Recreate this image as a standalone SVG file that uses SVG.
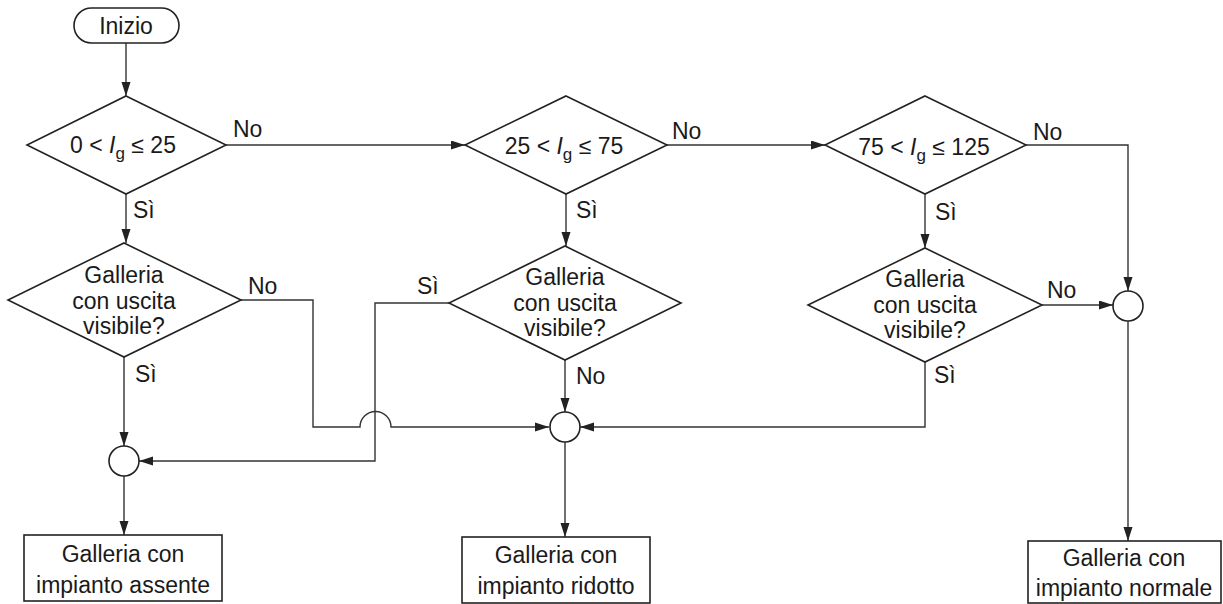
<svg xmlns="http://www.w3.org/2000/svg" width="1223" height="604" viewBox="0 0 1223 604">
<defs>
<style>
.s{fill:#fff;stroke:#222;stroke-width:1.6}
.c{fill:none;stroke:#333;stroke-width:1.4}
.t{font-family:"Liberation Sans",Arial,sans-serif;font-size:23px;fill:#1a1a1a}
.m{text-anchor:middle}
</style>
<marker id="a" markerUnits="userSpaceOnUse" markerWidth="15" markerHeight="10" refX="14" refY="4.5" orient="auto"><path d="M0,0 L14,4.5 L0,9 z" fill="#222"/></marker>
</defs>
<rect width="1223" height="604" fill="#fff"/>
<g id="connectors" class="c" marker-end="url(#a)">
<path d="M126,43 V96"/>
<path d="M226,145 H465"/>
<path d="M667,145 H825"/>
<path d="M1026,145 H1128 V291"/>
<path d="M126,194 V243"/>
<path d="M566,194 V246"/>
<path d="M925,194 V248"/>
<path d="M124,357 V446"/>
<path d="M241,300 H313 V427 H360 A15.5,15.5 0 0 1 391,427 H549"/>
<path d="M449,303 H375 V461 H139"/>
<path d="M565,360 V412"/>
<path d="M925,362 V427 H580"/>
<path d="M1042,305 H1113"/>
<path d="M124,476 V535"/>
<path d="M565,442 V537"/>
<path d="M1128,321 V541"/>
</g>
<g id="labels" class="t">
<text x="233" y="137">No</text>
<text x="672" y="139">No</text>
<text x="1033" y="140">No</text>
<text x="133" y="218">Sì</text>
<text x="576" y="218">Sì</text>
<text x="935" y="220">Sì</text>
<text x="248" y="294">No</text>
<text x="417" y="294">Sì</text>
<text x="135" y="382">Sì</text>
<text x="576" y="384">No</text>
<text x="934" y="383">Sì</text>
<text x="1047" y="298">No</text>
</g>
<g id="start">
<rect class="s" x="74" y="8" width="105" height="35" rx="17.5"/>
<text class="t m" x="126" y="34">Inizio</text>
</g>
<g id="d1">
<polygon class="s" points="126,96 226,145 126,194 27,145"/>
<text class="t m" x="123" y="153">0 &lt; <tspan font-style="italic">I</tspan><tspan font-size="17" dy="6">g</tspan><tspan dy="-6"> ≤ 25</tspan></text>
</g>
<g id="d2">
<polygon class="s" points="566,96 667,145 566,194 465,145"/>
<text class="t m" x="564" y="154">25 &lt; <tspan font-style="italic">I</tspan><tspan font-size="17" dy="6">g</tspan><tspan dy="-6"> ≤ 75</tspan></text>
</g>
<g id="d3">
<polygon class="s" points="925,96 1026,145 925,194 825,145"/>
<text class="t m" x="924" y="155">75 &lt; <tspan font-style="italic">I</tspan><tspan font-size="17" dy="6">g</tspan><tspan dy="-6"> ≤ 125</tspan></text>
</g>
<g id="d4">
<polygon class="s" points="124,243 241,300 124,357 8,300"/>
<text class="t m" x="124" y="283">Galleria</text>
<text class="t m" x="124" y="309">con uscita</text>
<text class="t m" x="124" y="334">visibile?</text>
</g>
<g id="d5">
<polygon class="s" points="565,246 681,303 565,360 449,303"/>
<text class="t m" x="565" y="285">Galleria</text>
<text class="t m" x="565" y="311">con uscita</text>
<text class="t m" x="565" y="336">visibile?</text>
</g>
<g id="d6">
<polygon class="s" points="925,248 1042,305 925,362 808,305"/>
<text class="t m" x="925" y="287">Galleria</text>
<text class="t m" x="925" y="313">con uscita</text>
<text class="t m" x="925" y="338">visibile?</text>
</g>
<g id="j1"><circle class="s" cx="124" cy="461" r="15"/></g>
<g id="j2"><circle class="s" cx="565" cy="427" r="15"/></g>
<g id="j3"><circle class="s" cx="1128" cy="306" r="15"/></g>
<g id="b1">
<rect class="s" x="24" y="535" width="198" height="66"/>
<text class="t m" x="123" y="562">Galleria con</text>
<text class="t m" x="123" y="593">impianto assente</text>
</g>
<g id="b2">
<rect class="s" x="462" y="537" width="188" height="66"/>
<text class="t m" x="556" y="563">Galleria con</text>
<text class="t m" x="556" y="594">impianto ridotto</text>
</g>
<g id="b3">
<rect class="s" x="1028" y="541" width="193" height="62"/>
<text class="t m" x="1124" y="566">Galleria con</text>
<text class="t m" x="1124" y="596">impianto normale</text>
</g>
</svg>
